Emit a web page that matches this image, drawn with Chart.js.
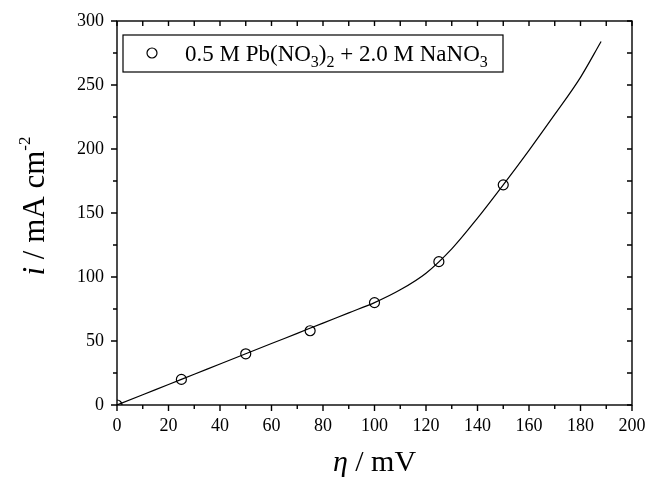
<!DOCTYPE html>
<html>
<head>
<meta charset="utf-8">
<script src="https://cdn.jsdelivr.net/npm/chart.js@4.4.0/dist/chart.umd.min.js"></script>
<style>
  html, body { margin: 0; padding: 0; background: #fff; }
  #wrap { width: 646px; height: 477px; }
</style>
</head>
<body>
<div id="wrap"><canvas id="c" width="646" height="477"></canvas></div>
<script>
// Measured points
const etaData = [0, 25, 50, 75, 100, 125, 150];
const currentData = [0, 20, 40, 58, 80, 112, 172];

// Fitted curve
const fitEta = [0, 10, 20, 30, 40, 50, 60, 70, 80, 90, 100, 110, 120, 130, 140, 150, 160, 170, 180, 188];
const fitCurrent = [0, 8, 16, 24, 32, 40, 48, 56, 64, 72, 80, 90, 103, 122, 146, 172, 199, 227, 256, 284];

const xMajor = [0, 20, 40, 60, 80, 100, 120, 140, 160, 180, 200];
const yMajor = [0, 50, 100, 150, 200, 250, 300];

const SERIF = '"Liberation Serif", "DejaVu Serif", serif';

function drawParts(ctx, parts, cx, baseY) {
    let total = 0;
    for (const [t, f] of parts) {
        ctx.font = f;
        total += ctx.measureText(t).width;
    }
    let x = cx - total / 2;
    ctx.textAlign = 'left';
    for (const [t, f, dy] of parts) {
        ctx.font = f;
        ctx.fillText(t, x, baseY + dy);
        x += ctx.measureText(t).width;
    }
}

const framePlugin = {
    id: 'frame',
    afterDraw(chart) {
        const ctx = chart.ctx;
        const a = chart.chartArea;
        const xs = chart.scales.x;
        const ys = chart.scales.y;
        ctx.save();
        ctx.strokeStyle = '#000';
        ctx.lineWidth = 1.4;
        ctx.strokeRect(a.left, a.top, a.right - a.left, a.bottom - a.top);

        ctx.beginPath();
        // x ticks: bottom outward, top inward
        for (let v = 0; v <= 200; v += 10) {
            const px = xs.getPixelForValue(v);
            const major = v % 20 === 0;
            ctx.moveTo(px, a.bottom);
            ctx.lineTo(px, a.bottom + (major ? 6 : 4));
            ctx.moveTo(px, a.top);
            ctx.lineTo(px, a.top + 5);
        }
        // y ticks: left outward, right inward
        for (let v = 0; v <= 300; v += 25) {
            const py = ys.getPixelForValue(v);
            const major = v % 50 === 0;
            ctx.moveTo(a.left, py);
            ctx.lineTo(a.left - (major ? 6 : 4), py);
            ctx.moveTo(a.right, py);
            ctx.lineTo(a.right - 5, py);
        }
        ctx.stroke();

        // legend box
        ctx.lineWidth = 1.2;
        const bx = 123, by = 35, bw = 380, bh = 37;
        ctx.strokeRect(bx, by, bw, bh);
        ctx.beginPath();
        ctx.arc(152, 53, 5, 0, Math.PI * 2);
        ctx.stroke();

        ctx.fillStyle = '#000';
        ctx.textBaseline = 'alphabetic';
        ctx.textAlign = 'left';
        const main = '23px ' + SERIF;
        const sub = '16px ' + SERIF;
        const parts = [
            ['0.5 M Pb(NO', main, 0],
            ['3', sub, 6],
            [')', main, 0],
            ['2', sub, 6],
            [' + 2.0 M NaNO', main, 0],
            ['3', sub, 6]
        ];
        let tx = 185;
        for (const [t, f, dy] of parts) {
            ctx.font = f;
            ctx.fillText(t, tx, 61 + dy);
            tx += ctx.measureText(t).width;
        }

        // x axis title
        const xc = (a.left + a.right) / 2;
        drawParts(ctx, [['η', 'italic 30px ' + SERIF, 0], [' / mV', '30px ' + SERIF, 0]], xc, 471);

        // y axis title, rotated
        ctx.save();
        ctx.translate(44, 206);
        ctx.rotate(-Math.PI / 2);
        drawParts(ctx, [
            ['i', 'italic 31px ' + SERIF, 0],
            [' / mA cm', '31px ' + SERIF, 0],
            ['-2', '17px ' + SERIF, -14]
        ], 0, 0);
        ctx.restore();

        ctx.restore();
    }
};

new Chart(document.getElementById('c').getContext('2d'), {
    type: 'scatter',
    data: {
        datasets: [
            {
                label: 'points',
                data: etaData.map((x, i) => ({ x, y: currentData[i] })),
                pointStyle: 'circle',
                pointRadius: 5,
                pointBorderWidth: 1.2,
                borderColor: '#000',
                backgroundColor: 'rgba(0,0,0,0)',
                showLine: false,
                order: 1
            },
            {
                label: 'fit',
                data: fitEta.map((x, i) => ({ x, y: fitCurrent[i] })),
                showLine: true,
                cubicInterpolationMode: 'monotone',
                pointRadius: 0,
                borderColor: '#000',
                borderWidth: 1.2,
                fill: false,
                order: 2
            }
        ]
    },
    options: {
        responsive: false,
        animation: false,
        devicePixelRatio: 1,
        layout: { padding: { left: 0, top: 21, right: 14, bottom: 0 } },
        plugins: {
            legend: { display: false },
            tooltip: { enabled: false }
        },
        scales: {
            x: {
                type: 'linear',
                min: 0,
                max: 200,
                afterFit: s => { s.height = 72; s.paddingLeft = 0; s.paddingRight = 0; },
                afterBuildTicks: s => { s.ticks = xMajor.map(v => ({ value: v })); },
                grid: { display: false, drawTicks: false },
                border: { display: false },
                ticks: {
                    color: '#000',
                    padding: 10,
                    maxRotation: 0,
                    font: { family: SERIF, size: 18 }
                }
            },
            y: {
                type: 'linear',
                min: 0,
                max: 300,
                afterFit: s => { s.width = 117; s.paddingTop = 0; s.paddingBottom = 0; },
                afterBuildTicks: s => { s.ticks = yMajor.map(v => ({ value: v })); },
                grid: { display: false, drawTicks: false },
                border: { display: false },
                ticks: {
                    color: '#000',
                    padding: 13,
                    font: { family: SERIF, size: 18 }
                }
            }
        }
    },
    plugins: [framePlugin]
});
</script>
</body>
</html>
